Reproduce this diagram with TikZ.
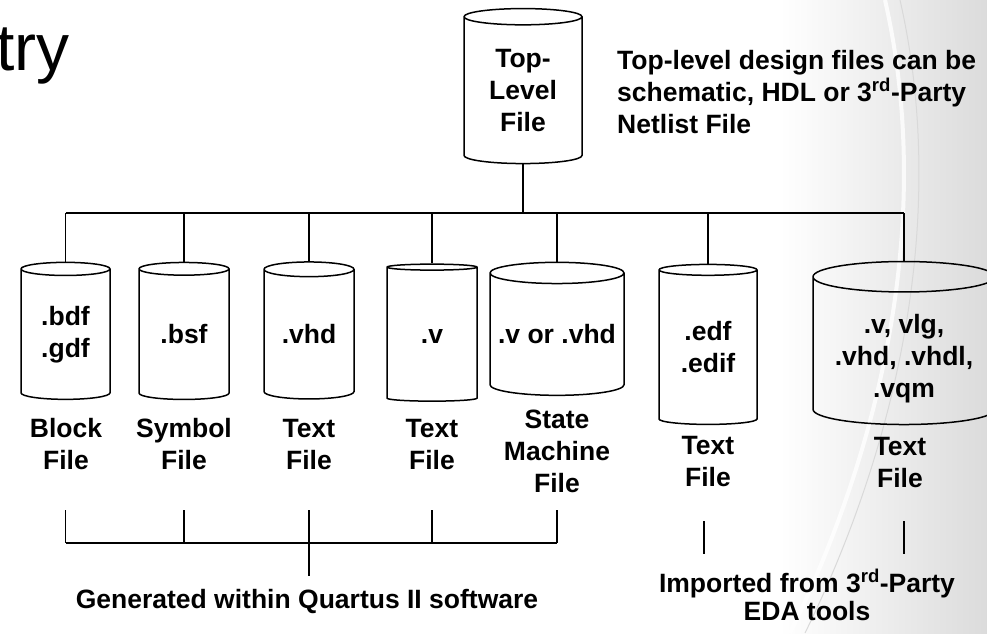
\documentclass[tikz,border=0pt]{standalone}
\usepackage{fontspec}
\setmainfont{Liberation Sans}
\usetikzlibrary{positioning,shapes.geometric}

\tikzset{
  wire/.style={line width=1.5pt},
  file/.style={cylinder, shape border rotate=90, draw, line width=1.5pt,
    inner sep=0pt, align=center, font=\bfseries\fontsize{26.5}{32}\selectfont},
  lbl/.style={inner sep=0pt, align=center, font=\bfseries\fontsize{26.5}{32}\selectfont},
}

\begin{document}
\begin{tikzpicture}[x=1pt, y=-1pt]
\useasboundingbox (0,0) rectangle (987,633);
% backdrop on the right
\shade[left color=white, right color=gray!28] (780,0) rectangle (987,633);
\draw[white, line width=4pt, opacity=.8] (885,0) .. controls (935,220) and (880,450) .. (790,633);
\draw[gray!30, line width=1pt] (900,0) .. controls (950,220) and (895,450) .. (805,633);

\node[anchor=base west, inner sep=0pt, font=\fontsize{66}{66}\selectfont] (title) at (-4,70) {try};

% top level
\node[file, minimum width=118pt, minimum height=155pt, aspect=0.24] (top) at (523,90.5) {Top-\\Level\\File};
\node[lbl, align=left, anchor=base west] (note) at (617,133) {Top-level design files can be\\schematic, HDL or 3\textsuperscript{rd}-Party\\Netlist File};

% design files
\node[file, minimum width=89pt,  minimum height=137pt, aspect=0.27] (bdf)    at (65.5,334.5) {.bdf\\.gdf};
\node[file, minimum width=90pt,  minimum height=137pt, aspect=0.27] (bsf)    at (184,334.5)  {.bsf};
\node[file, minimum width=90pt,  minimum height=137pt, aspect=0.27] (vhd)    at (309,334.5)  {.vhd};
\node[file, minimum width=90pt,  minimum height=137pt, aspect=0.27] (v)      at (432,334.5)  {\vphantom{b}.v};
\node[file, minimum width=134pt, minimum height=133pt, aspect=0.18] (vorvhd) at (557,334.5)  {.v or .vhd};
\node[file, minimum width=98pt,  minimum height=160pt, aspect=0.20] (edf)    at (708,347.5)  {.edf\\.edif};
\node[file, minimum width=182pt, minimum height=163pt, aspect=0.22] (vqm)    at (904,351)    {\rule{0pt}{35pt}.v, vlg,\\.vhd, .vhdl,\\.vqm};

% labels (base = last line)
\node[lbl, anchor=base] (bdf-l)    at (66,469.7)  {Block\\File};
\node[lbl, anchor=base] (bsf-l)    at (184,469.7) {Symbol\\File};
\node[lbl, anchor=base] (vhd-l)    at (309,469.7) {Text\\File};
\node[lbl, anchor=base] (v-l)      at (432,469.7) {Text\\File};
\node[lbl, anchor=base] (vorvhd-l) at (557,492)   {State\\Machine\\File};
\node[lbl, anchor=base] (edf-l)    at (708,486)   {Text\\File};
\node[lbl, anchor=base] (vqm-l)    at (900,487)   {Text\\File};

% bus
\coordinate (busL) at (66,213);
\draw[wire] (top.south) -- (top.south |- busL);
\draw[wire] (bdf.north |- busL) -- (vqm.north |- busL);
\foreach \f in {bdf,bsf,vhd,v,vorvhd,edf,vqm}
  \draw[wire] (\f.north |- busL) -- (\f.north);

% groups
\coordinate (gtop) at (0,510);
\coordinate (gbar) at (0,543);
\node[lbl, anchor=base] (gen) at (307,608) {Generated within Quartus II software};
\foreach \f in {bdf,bsf,vhd,v,vorvhd}
  \draw[wire] (\f.center |- gtop) -- (\f.center |- gbar);
\draw[wire] (bdf.center |- gbar) -- (vorvhd.center |- gbar);
\draw[wire, shorten >=13pt] (vhd.center |- gbar) -- (vhd.center |- gen.north);

\coordinate (itop) at (0,521);
\coordinate (ibot) at (0,554);
\node[lbl, anchor=base, font=\bfseries\fontsize{26.5}{28}\selectfont] (imp) at (807,620) {Imported from 3\textsuperscript{rd}-Party\\EDA tools};
\draw[wire] ([xshift=-4pt]edf.center |- itop) -- ([xshift=-4pt]edf.center |- ibot);
\draw[wire] (vqm.center |- itop) -- (vqm.center |- ibot);
\end{tikzpicture}
\end{document}
